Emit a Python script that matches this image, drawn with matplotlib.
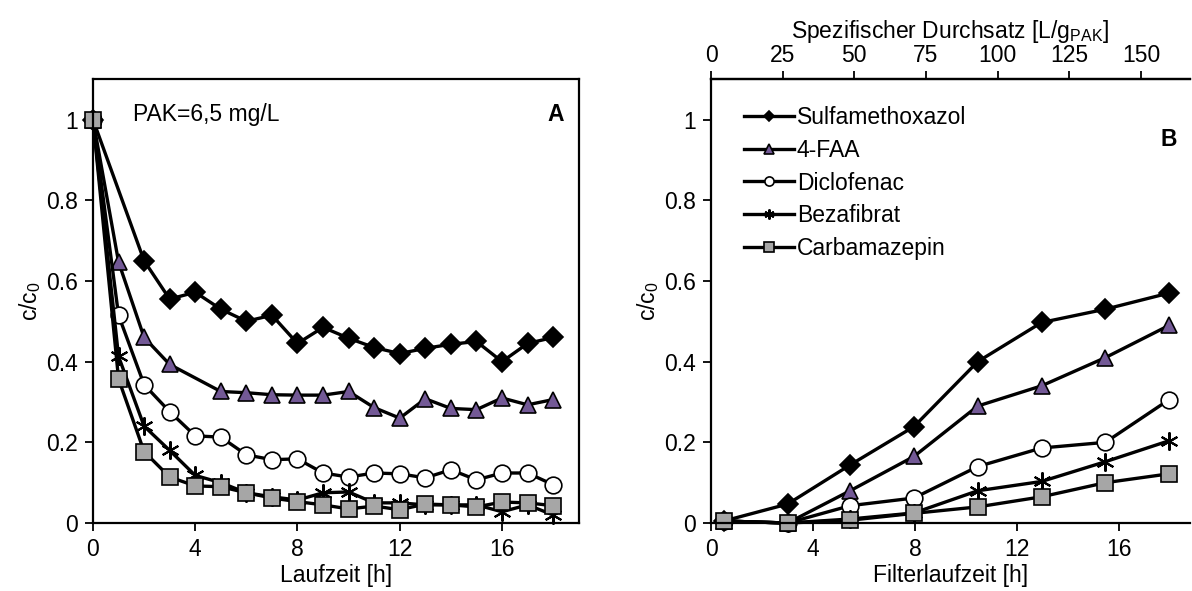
import matplotlib
matplotlib.use("Agg")
import matplotlib.pyplot as plt
from matplotlib.ticker import FuncFormatter

plt.rcParams['font.family'] = ['Liberation Sans', 'DejaVu Sans']
plt.rcParams['mathtext.default'] = 'regular'

names = ['Sulfamethoxazol', '4-FAA', 'Diclofenac', 'Bezafibrat', 'Carbamazepin']

# panel A: batch test, Laufzeit [h]
tA_sulfa = [0, 2, 3, 4, 5, 6, 7, 8, 9, 10, 11, 12, 13, 14, 15, 16, 17, 18]
cA_sulfa = [1.0, 0.65, 0.555, 0.572, 0.53, 0.50, 0.515, 0.445, 0.485, 0.458, 0.435, 0.42,
            0.433, 0.443, 0.45, 0.40, 0.445, 0.46]
tA_faa = [0, 1, 2, 3, 5, 6, 7, 8, 9, 10, 11, 12, 13, 14, 15, 16, 17, 18]
cA_faa = [1.0, 0.647, 0.46, 0.393, 0.326, 0.323, 0.318, 0.317, 0.317, 0.326, 0.286, 0.26,
          0.308, 0.284, 0.281, 0.31, 0.293, 0.306]
tA_all = list(range(19))
cA_diclo = [1.0, 0.515, 0.343, 0.276, 0.216, 0.213, 0.169, 0.157, 0.159, 0.124, 0.114,
            0.124, 0.122, 0.112, 0.132, 0.107, 0.124, 0.124, 0.095]
cA_beza = [1.0, 0.413, 0.24, 0.18, 0.118, 0.1, 0.075, 0.065, 0.057, 0.075, 0.077, 0.05,
           0.05, 0.045, 0.045, 0.045, 0.028, 0.045, 0.02]
cA_carba = [1.0, 0.357, 0.177, 0.114, 0.092, 0.09, 0.075, 0.062, 0.053, 0.045, 0.035,
            0.042, 0.033, 0.047, 0.045, 0.04, 0.052, 0.05, 0.043]

# panel B: filter, Filterlaufzeit [h]
tB = [0.5, 3.0, 5.45, 7.95, 10.45, 12.95, 15.45, 17.95]
cB_sulfa = [0.005, 0.047, 0.144, 0.239, 0.40, 0.497, 0.53, 0.57]
cB_faa = [0.005, 0.0, 0.08, 0.165, 0.29, 0.34, 0.41, 0.49]
cB_diclo = [0.005, 0.0, 0.043, 0.062, 0.14, 0.186, 0.20, 0.306]
cB_beza = [0.005, 0.0, 0.01, 0.025, 0.08, 0.103, 0.152, 0.204]
cB_carba = [0.005, 0.0, 0.007, 0.024, 0.04, 0.065, 0.10, 0.122]

throughput_per_h = 8.907   # L/g_PAK per hour of filter runtime

styles = [
    dict(marker='D', ms=10, mfc='black', mec='black'),
    dict(marker='^', ms=12, mfc='#735996', mec='black'),
    dict(marker='o', ms=12, mfc='white', mec='black'),
    dict(marker=(6, 2, 0), ms=13, mfc='black', mec='black', mew=1.5),
    dict(marker='s', ms=12, mfc='#a6a6a6', mec='black'),
]

fs = 16.5
fig = plt.figure(figsize=(11.92, 5.91), dpi=100)
axA = fig.add_axes([0.078, 0.115, 0.4075, 0.751])
axB = fig.add_axes([0.5965, 0.115, 0.4015, 0.751])

yfmt = FuncFormatter(lambda v, p: '%g' % round(v, 2))

dataA = [(tA_sulfa, cA_sulfa), (tA_faa, cA_faa), (tA_all, cA_diclo),
         (tA_all, cA_beza), (tA_all, cA_carba)]
dataB = [cB_sulfa, cB_faa, cB_diclo, cB_beza, cB_carba]

for (t, c), st, nm in zip(dataA, styles, names):
    kw = dict(st)
    kw.setdefault('mew', 1.2)
    axA.plot(t, c, color='black', lw=2.4, label=nm, clip_on=False, **kw)

for c, st, nm in zip(dataB, styles, names):
    kw = dict(st)
    kw.setdefault('mew', 1.2)
    axB.plot(tB, c, color='black', lw=2.4, label=nm, clip_on=False, **kw)

for ax in (axA, axB):
    ax.set_ylim(0, 1.1)
    ax.set_yticks([0, 0.2, 0.4, 0.6, 0.8, 1.0])
    ax.yaxis.set_major_formatter(yfmt)
    ax.set_xticks([0, 4, 8, 12, 16])
    ax.tick_params(direction='out', length=6, width=1.3, labelsize=fs, pad=5)
    for s in ax.spines.values():
        s.set_linewidth(1.6)
    ax.set_ylabel('c/c$_0$', fontsize=fs, labelpad=2)

axA.set_xlim(0, 19)
axA.set_xlabel('Laufzeit [h]', fontsize=fs, labelpad=2)
axA.text(0.083, 0.905, 'PAK=6,5 mg/L', transform=axA.transAxes, fontsize=fs)
axA.text(0.935, 0.905, 'A', transform=axA.transAxes, fontsize=fs, fontweight='bold')

axB.set_xlim(0, 18.75)
axB.spines['right'].set_visible(False)
axB.set_xlabel('Filterlaufzeit [h]', fontsize=fs, labelpad=2)
axB.text(0.94, 0.85, 'B', transform=axB.transAxes, fontsize=fs, fontweight='bold')

top = axB.secondary_xaxis('top', functions=(lambda x: x * throughput_per_h,
                                           lambda x: x / throughput_per_h))
top.set_xticks([0, 25, 50, 75, 100, 125, 150])
top.tick_params(direction='out', length=6, width=1.3, labelsize=fs, pad=3)
top.spines['top'].set_linewidth(1.6)
top.set_xlabel('Spezifischer Durchsatz [L/g$_{PAK}$]', fontsize=fs, labelpad=4)

axB.legend(loc='upper left', bbox_to_anchor=(0.04, 0.97), frameon=False, fontsize=fs,
           markerscale=0.55, handlelength=2.2, handletextpad=0.1, labelspacing=0.42,
           borderaxespad=0.2)

fig.savefig('out.png', dpi=100)
